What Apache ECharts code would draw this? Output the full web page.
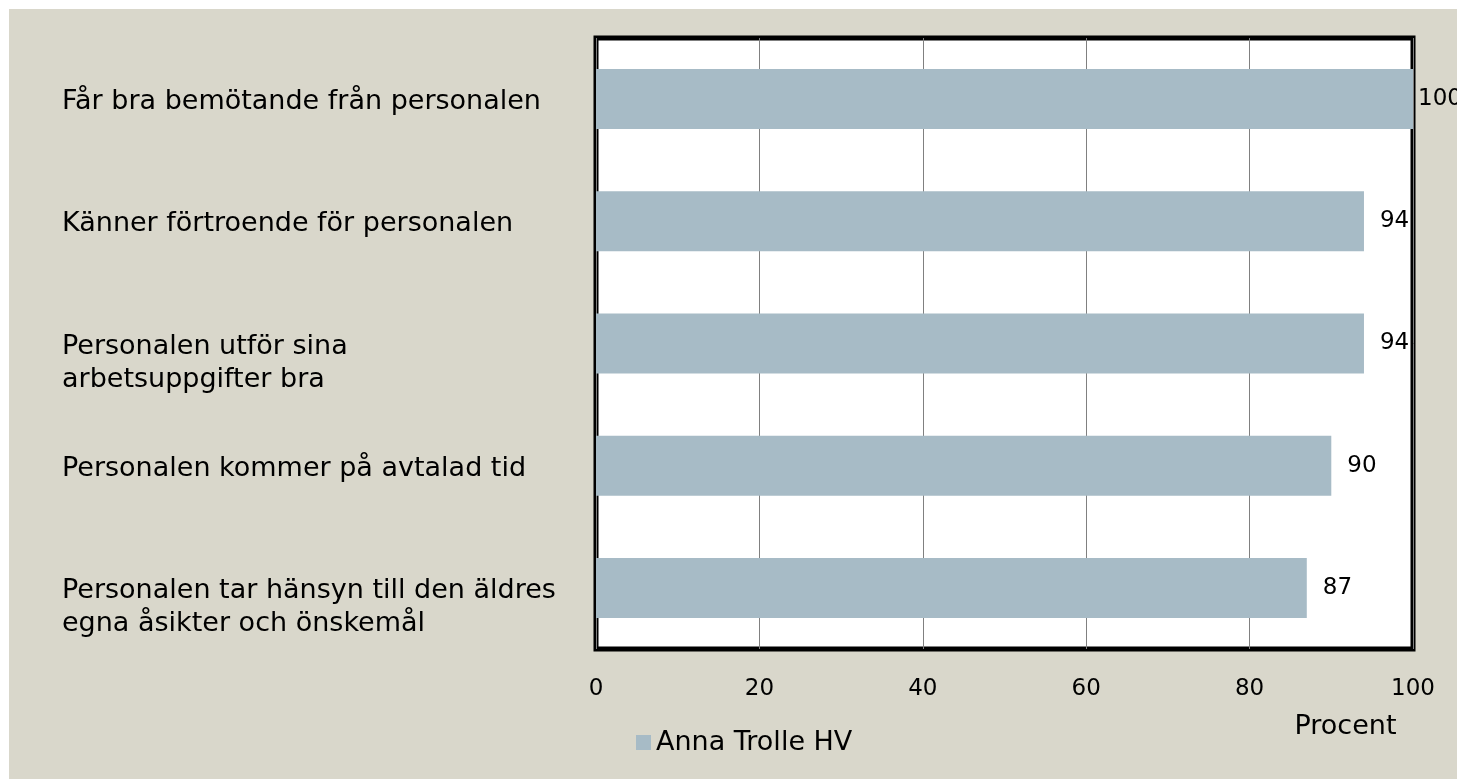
<!DOCTYPE html>
<html>
<head>
<meta charset="utf-8">
<script src="https://cdn.jsdelivr.net/npm/echarts@6/dist/echarts.min.js"></script>
<style>
html,body{margin:0;padding:0;background:#ffffff;}
#chart{position:absolute;left:9px;top:9px;width:1448px;height:770px;background:#d9d7cb;}
</style>
</head>
<body>
<div id="chart"></div>
<script>
const categories = [
  "Får bra bemötande från personalen",
  "Känner förtroende för personalen",
  "Personalen utför sina\narbetsuppgifter bra",
  "Personalen kommer på avtalad tid",
  "Personalen tar hänsyn till den äldres\negna åsikter och önskemål"
];
const values = [100, 94, 94, 90, 87];
const seriesName = "Anna Trolle HV";
const axisName = "Procent";

const FONT = "'DejaVu Sans', sans-serif";
const chart = echarts.init(document.getElementById('chart'), null, {renderer: 'canvas'});
chart.setOption({
  backgroundColor: '#d9d7cb',
  animation: false,
  grid: {
    left: 587, top: 29, right: 44, bottom: 130,
    show: true, backgroundColor: '#ffffff', borderColor: '#000000', borderWidth: 5,
    containLabel: false
  },
  legend: {
    left: 622, top: 715,
    itemWidth: 15, itemHeight: 15, itemGap: 10,
    icon: 'rect',
    textStyle: {fontFamily: FONT, fontSize: 27, color: '#000'},
    data: [seriesName]
  },
  xAxis: {
    type: 'value', min: 0, max: 100, interval: 20,
    axisLine: {show: false}, axisTick: {show: false},
    splitLine: {show: true, lineStyle: {color: '#808080', width: 1}},
    axisLabel: {fontFamily: FONT, fontSize: 23, color: '#000', margin: 29},
    name: axisName, nameLocation: 'middle', nameGap: 64,
    nameTextStyle: {fontFamily: FONT, fontSize: 27, color: '#000', padding: [0, 0, 0, 682]}
  },
  yAxis: {
    type: 'category', inverse: true, data: categories,
    axisLine: {show: false}, axisTick: {show: false}, splitLine: {show: false},
    axisLabel: {
      fontFamily: FONT, fontSize: 27, color: '#000', align: 'left', margin: 534,
      formatter: function (v) {
        const lines = v.split('\n');
        if (lines.length === 1) return '{p|' + v + '}';
        return '{s| }\n' + lines.map(l => '{a|' + l + '}').join('\n');
      },
      rich: {
        a: {fontFamily: FONT, fontSize: 27, color: '#000', lineHeight: 33},
        p: {fontFamily: FONT, fontSize: 27, color: '#000', lineHeight: 33, padding: [6, 0, 0, 0]},
        s: {fontSize: 10, lineHeight: 40}
      }
    }
  },
  series: [{
    name: seriesName, type: 'bar', data: values.map((v, i) => ({value: v, label: i === 0 ? {distance: 5} : undefined})),
    barWidth: 60,
    itemStyle: {color: '#a7bbc6'},
    label: {show: true, position: 'right', distance: 16, fontFamily: FONT, fontSize: 23, color: '#000'}
  }]
});
</script>
</body>
</html>
